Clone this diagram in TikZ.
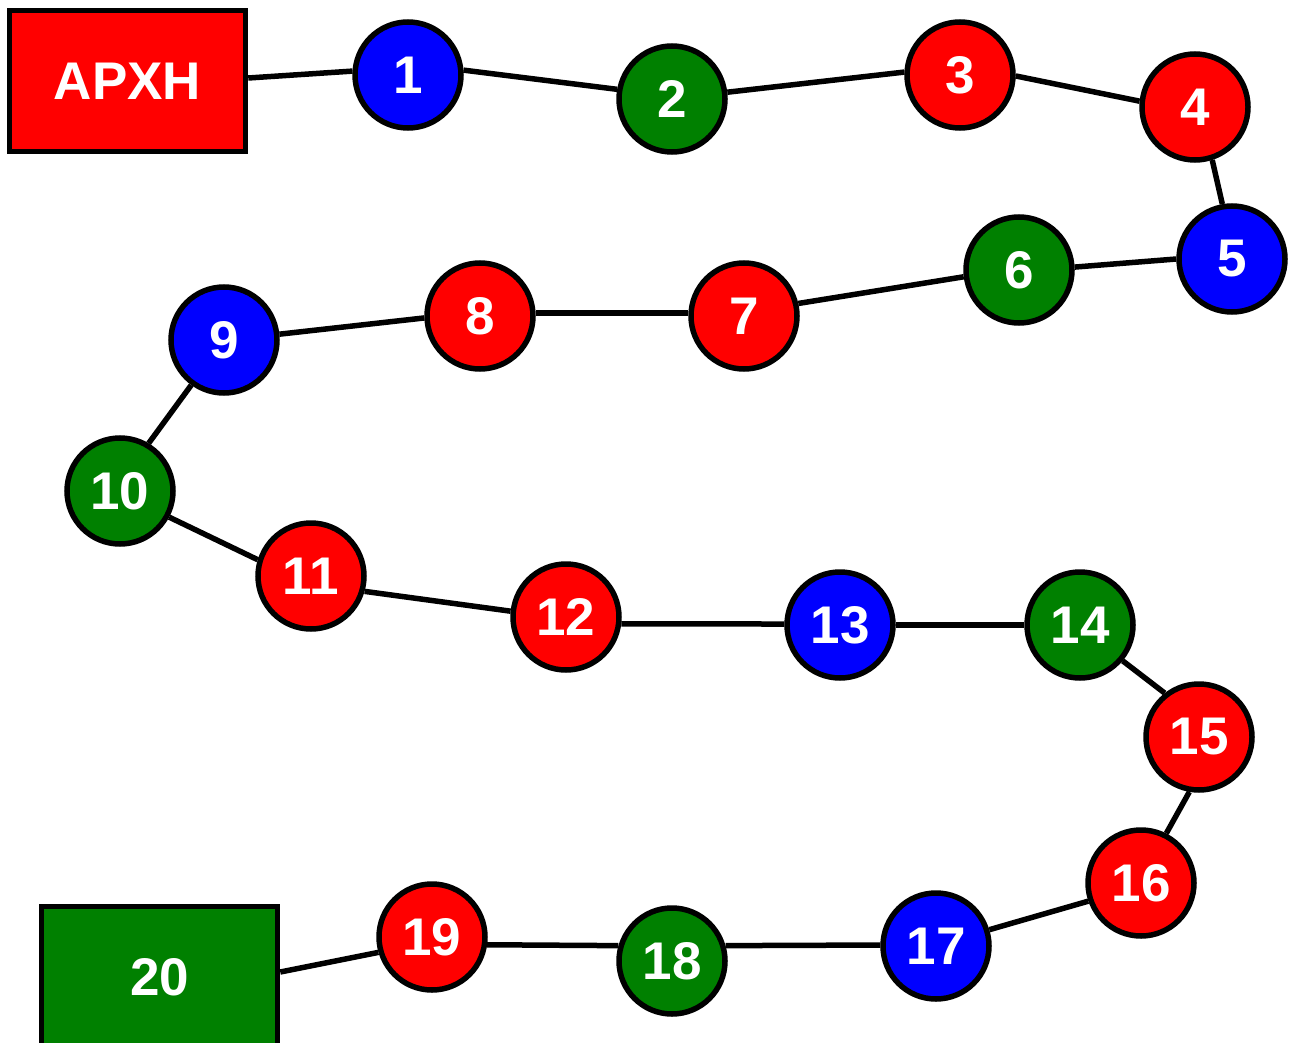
\documentclass[tikz,border=0pt]{standalone}
\usepackage{fontspec}
\setmainfont{Liberation Sans}
\definecolor{cred}{RGB}{255,0,0}
\definecolor{cblue}{RGB}{0,0,255}
\definecolor{cgreen}{RGB}{0,128,0}
\begin{document}
\begin{tikzpicture}[x=1pt,y=-1pt,
  num/.style={circle,draw=black,line width=5.5pt,minimum size=106pt,inner sep=0pt,text=white,font=\fontsize{53}{53}\selectfont\bfseries},
  endbox/.style={rectangle,draw=black,line width=5.5pt,minimum width=236pt,minimum height=141pt,inner sep=0pt,text=white,font=\fontsize{53}{53}\selectfont\bfseries},
  R/.style={fill=cred},B/.style={fill=cblue},G/.style={fill=cgreen},
  edge/.style={line width=5.5pt,black}]
\useasboundingbox (0,0) rectangle (1290,1043);
\node[endbox,R] (s) at (127.5,81) {ΑΡΧΗ};
\node[num,B] (n1) at (408,75) {1};
\node[num,G] (n2) at (672,99) {2};
\node[num,R] (n3) at (960,75) {3};
\node[num,R] (n4) at (1195,107) {4};
\node[num,B] (n5) at (1232,259) {5};
\node[num,G] (n6) at (1019,270) {6};
\node[num,R] (n7) at (744,316) {7};
\node[num,R] (n8) at (480,316) {8};
\node[num,B] (n9) at (224,340) {9};
\node[num,G] (n10) at (120,491) {10};
\node[num,R] (n11) at (311,576) {11};
\node[num,R] (n12) at (566,617) {12};
\node[num,B] (n13) at (840,625) {13};
\node[num,G] (n14) at (1080,625) {14};
\node[num,R] (n15) at (1199,737) {15};
\node[num,R] (n16) at (1141,883) {16};
\node[num,B] (n17) at (936,946) {17};
\node[num,G] (n18) at (672,961) {18};
\node[num,R] (n19) at (432,937) {19};
\node[endbox,G] (e) at (159.5,977) {20};
\draw[edge] ([yshift=3pt]s.east) -- (n1.176);
\draw[edge] (n1.5) -- (n2.170);
\draw[edge] (n2.7) -- (n3.177);
\draw[edge] (n3.-1) -- (n4.174);
\draw[edge] (n4.-72) -- (n5.100);
\draw[edge] (n5.180) -- (n6.3);
\draw[edge] (n6.187) -- (n7.13);
\draw[edge] (n7.177) -- (n8.3);
\draw[edge] (n8.182) -- (n9.6);
\draw[edge] (n9.234) -- (n10.59);
\draw[edge] (n10.-28) -- (n11.163);
\draw[edge] (n11.-16) -- (n12.174);
\draw[edge] (n12.-7) -- (n13.179);
\draw[edge] (n13.0) -- (n14.180);
\draw[edge] (n14.-40) -- (n15.128);
\draw[edge] (n15.260) -- (n16.63);
\draw[edge] (n16.199) -- (n17.17);
\draw[edge] (n17.179) -- (n18.16);
\draw[edge] (n18.164) -- (n19.-8);
\draw[edge] (n19.196) -- ([yshift=5pt]e.east);
\end{tikzpicture}
\end{document}
